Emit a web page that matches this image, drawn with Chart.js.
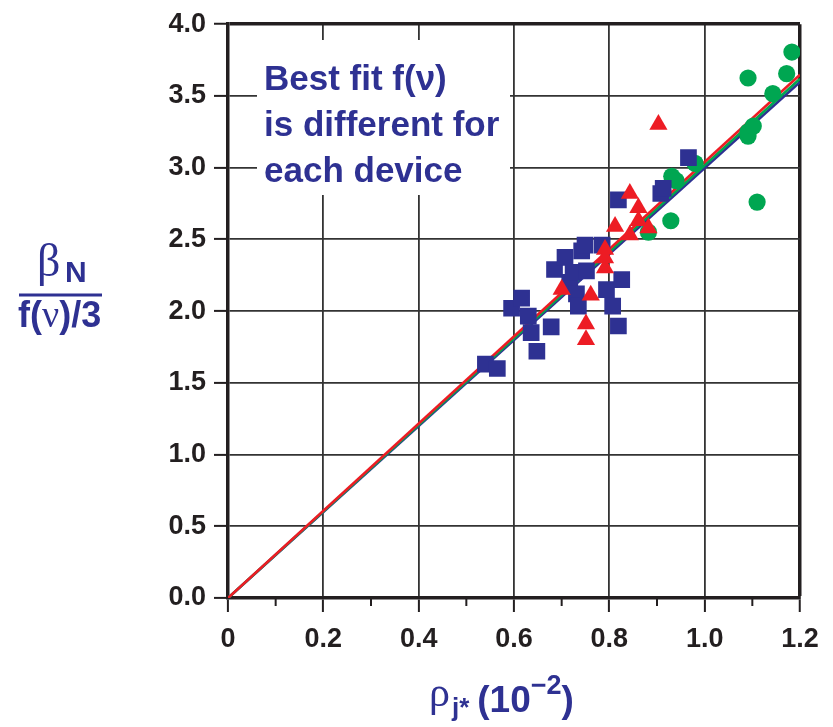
<!DOCTYPE html>
<html>
<head>
<meta charset="utf-8">
<script src="https://cdn.jsdelivr.net/npm/chart.js@4.4.1/dist/chart.umd.min.js"></script>
<style>
  html, body { margin: 0; padding: 0; background: #fff; }
</style>
</head>
<body>
<canvas id="c" width="833" height="727"></canvas>
<script>
// device data
const blueX = [0.54, 0.565, 0.595, 0.616, 0.63, 0.636, 0.648, 0.678, 0.685, 0.707, 0.717, 0.724, 0.731, 0.735, 0.742, 0.749, 0.752, 0.785, 0.794, 0.807, 0.819, 0.826, 0.819, 0.908, 0.913, 0.966];
const blueY = [1.63, 1.60, 2.02, 2.09, 1.965, 1.85, 1.72, 1.89, 2.29, 2.375, 2.20, 2.27, 2.12, 2.035, 2.42, 2.46, 2.28, 2.46, 2.15, 2.035, 1.896, 2.22, 2.776, 2.82, 2.856, 3.07];

const redX = [0.70, 0.751, 0.751, 0.761, 0.791, 0.791, 0.791, 0.812, 0.843, 0.843, 0.861, 0.861, 0.882, 0.903];
const redY = [2.15, 1.80, 1.91, 2.11, 2.30, 2.37, 2.43, 2.59, 2.53, 2.82, 2.63, 2.72, 2.58, 3.30];

const greenX = [0.882, 0.929, 0.931, 0.94, 0.98, 1.091, 1.091, 1.091, 1.102, 1.11, 1.143, 1.172, 1.183];
const greenY = [2.55, 2.63, 2.94, 2.91, 3.03, 3.22, 3.25, 3.625, 3.29, 2.76, 3.516, 3.655, 3.806];

// best-fit lines through the origin
const fitX = [0, 1.2];
const redFitY = [0, 3.648];
const greenFitY = [0, 3.62];
const blueFitY = [0, 3.597];

const xTicks = [0, 0.2, 0.4, 0.6, 0.8, 1.0, 1.2];
const yTicks = [0, 0.5, 1.0, 1.5, 2.0, 2.5, 3.0, 3.5, 4.0];
const noteLines = ['Best fit f(\u03bd)', 'is different for', 'each device'];

const BLUE = '#2e3192', RED = '#ed1c24', GREEN = '#00a651', INK = '#231f20';

const pts = (xs, ys) => xs.map((x, i) => ({ x: x, y: ys[i] }));

const overlay = {
  id: 'overlay',
  beforeDatasetsDraw(chart) {
    const ctx = chart.ctx, xs = chart.scales.x;
    // minor ticks on the x axis
    ctx.save();
    ctx.strokeStyle = INK;
    ctx.lineWidth = 2;
    const b = chart.chartArea.bottom;
    for (let k = 1; k < 12; k += 2) {
      const px = xs.getPixelForValue(k / 10);
      ctx.beginPath();
      ctx.moveTo(px, b);
      ctx.lineTo(px, b + 8);
      ctx.stroke();
    }
    // note box
    ctx.fillStyle = '#fff';
    ctx.fillRect(257, 40, 253, 155);
    ctx.fillStyle = BLUE;
    ctx.font = 'bold 35px "Liberation Sans", Arial, sans-serif';
    ctx.textBaseline = 'alphabetic';
    ctx.textAlign = 'left';
    noteLines.forEach((t, i) => ctx.fillText(t, 264, 90 + i * 46));
    ctx.restore();
  },
  afterDraw(chart) {
    const ctx = chart.ctx;
    ctx.save();
    ctx.fillStyle = BLUE;
    ctx.strokeStyle = BLUE;
    ctx.textBaseline = 'alphabetic';
    ctx.textAlign = 'left';
    const sans = s => 'bold ' + s + 'px "Liberation Sans", Arial, sans-serif';
    const serif = s => s + 'px "Liberation Serif", "DejaVu Serif", serif';
    // y title: beta_N over f(nu)/3
    ctx.font = serif(46);
    ctx.fillText('\u03b2', 37, 276);
    ctx.font = sans(30);
    ctx.fillText('N', 65, 282);
    ctx.lineWidth = 3;
    ctx.beginPath();
    ctx.moveTo(19, 295);
    ctx.lineTo(102, 295);
    ctx.stroke();
    let x = 18;
    const seg = (t, f, y) => { ctx.font = f; ctx.fillText(t, x, y); x += ctx.measureText(t).width; };
    seg('f(', sans(36), 327);
    seg('\u03bd', serif(38), 327);
    seg(')/3', sans(36), 327);
    // x title: rho_j* (10^-2)
    x = 429;
    seg('\u03c1', serif(42), 706);
    x += 2;
    seg('j*', sans(26), 716);
    x += 8;
    seg('(10', sans(37), 712);
    seg('\u22122', sans(27), 694);
    seg(')', sans(37), 712);
    ctx.restore();
  }
};

new Chart('c', {
  type: 'scatter',
  data: {
    datasets: [
      { label: 'Red device', data: pts(redX, redY), pointStyle: 'triangle', pointRadius: 10.5, backgroundColor: RED, borderColor: RED, borderWidth: 0, order: 1 },
      { label: 'Blue device', data: pts(blueX, blueY), pointStyle: 'rect', pointRadius: 11.8, backgroundColor: BLUE, borderColor: BLUE, borderWidth: 0, order: 2 },
      { label: 'Green device', data: pts(greenX, greenY), pointStyle: 'circle', pointRadius: 8.6, backgroundColor: GREEN, borderColor: GREEN, borderWidth: 0, order: 3 },
      { type: 'line', label: 'Red fit', data: pts(fitX, redFitY), borderColor: RED, borderWidth: 2.6, pointRadius: 0, order: 4 },
      { type: 'line', label: 'Green fit', data: pts(fitX, greenFitY), borderColor: GREEN, borderWidth: 2.6, pointRadius: 0, order: 5 },
      { type: 'line', label: 'Blue fit', data: pts(fitX, blueFitY), borderColor: BLUE, borderWidth: 2.6, pointRadius: 0, order: 6 }
    ]
  },
  options: {
    responsive: false,
    animation: false,
    layout: { padding: { top: 22, right: 33, left: 0, bottom: 0 } },
    plugins: { legend: { display: false }, tooltip: { enabled: false } },
    scales: {
      x: {
        type: 'linear',
        min: 0,
        max: 1.2,
        afterBuildTicks: s => { s.ticks = xTicks.map(v => ({ value: v })); },
        afterFit: s => { s.height = 129; },
        ticks: {
          color: INK,
          padding: 11,
          font: { family: '"Liberation Sans", Arial, sans-serif', size: 27, weight: 'bold' },
          callback: v => (v === 0 ? '0' : v.toFixed(1))
        },
        grid: {
          color: c => (c.tick && c.tick.value === 1.2 ? INK : '#333333'),
          lineWidth: c => (c.tick && c.tick.value === 1.2 ? 3.5 : 1.8),
          tickColor: INK,
          tickWidth: 2,
          tickLength: 14
        },
        border: { color: INK, width: 3.5 }
      },
      y: {
        min: 0,
        max: 4,
        afterBuildTicks: s => { s.ticks = yTicks.map(v => ({ value: v })); },
        afterFit: s => { s.width = 228; },
        ticks: {
          color: INK,
          padding: 8,
          font: { family: '"Liberation Sans", Arial, sans-serif', size: 27, weight: 'bold' },
          callback: v => v.toFixed(1)
        },
        grid: {
          color: c => (c.tick && c.tick.value === 4 ? INK : '#333333'),
          lineWidth: c => (c.tick && c.tick.value === 4 ? 3.5 : 1.8),
          tickColor: INK,
          tickWidth: 2,
          tickLength: 14
        },
        border: { color: INK, width: 3.5 }
      }
    }
  },
  plugins: [overlay]
});
</script>
</body>
</html>
